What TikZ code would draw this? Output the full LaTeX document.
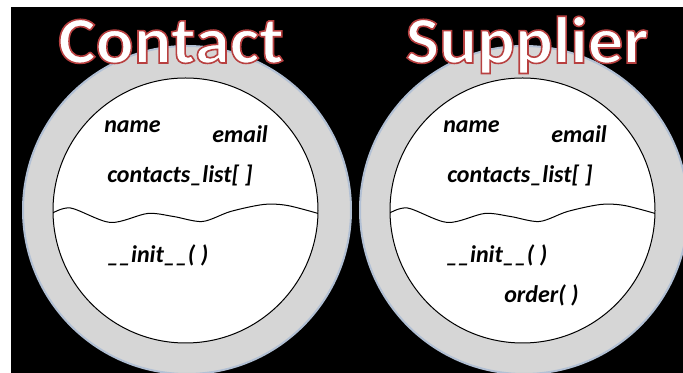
\documentclass[tikz,border=0pt]{standalone}
\usepackage{fontspec}
\setmainfont{Carlito}
\newfontfamily\titlefont[BoldFeatures={FakeBold=2.4,FakeStretch=1.06}]{Carlito}
\definecolor{ringgray}{RGB}{214,214,214}
\definecolor{ringglow}{RGB}{178,192,212}
% white letters, stroked red
\newcommand{\outlined}[1]{{\color{white}\special{pdf:code 0.72 0.25 0.25 RG}#1}}
\tikzset{
  member/.style={anchor=base west, inner sep=0.75pt, font=\fontsize{18}{21}\selectfont\bfseries\itshape},
  classname/.style={anchor=base, inner sep=0.75pt, font=\titlefont\fontsize{50}{58}\selectfont\bfseries},
  ring/.style={fill=ringgray, draw=ringglow, line width=1.5pt},
  body/.style={fill=white, draw=black, line width=0.75pt}
}

\begin{document}
\begin{tikzpicture}[x=0.75pt,y=0.75pt,yscale=-1,xscale=1]
\useasboundingbox (0,0) rectangle (683,373);
\fill [black] (11,7) rectangle (683,373);
% outer rings
\draw [ring] (187,210) circle [radius=164];
\draw [ring] (524,210) circle [radius=164];
% class bodies
\draw [body] (185.5,210.5) circle [radius=132.5];
\draw [body] (522.5,210.5) circle [radius=132.5];
% wavy separators
\begin{scope}
\clip (185.5,210.5) circle [radius=132.5];
\draw [line width=0.75pt] plot [smooth] coordinates {(51,214) (70.5,208) (110.5,222.5) (147.5,213.5) (173.5,216.5) (202.5,221.5) (230.5,211.5) (263.5,204.5) (287.5,205.5) (320,214)};
\end{scope}
\begin{scope}
\clip (522.5,210.5) circle [radius=132.5];
\draw [line width=0.75pt] plot [smooth] coordinates {(388,214) (407.5,208) (447.5,222.5) (484.5,213.5) (510.5,216.5) (539.5,221.5) (567.5,211.5) (600.5,204.5) (624.5,205.5) (657,214)};
\end{scope}
% Contact members
\draw (103,133) node [member] (cname) {name};
\draw (211,143) node [member] (cemail) {email};
\draw (106,183) node [member] (clist) {contacts\_list[ ]};
\draw (106,263) node [member] (cinit) {\_\_init\_\_( )};
% Supplier members
\draw (442,133) node [member] (sname) {name};
\draw (550,143) node [member] (semail) {email};
\draw (446,183) node [member] (slist) {contacts\_list[ ]};
\draw (445,263) node [member] (sinit) {\_\_init\_\_( )};
\draw (503,303) node [member] (sorder) {order( )};
% titles
\draw (171,63) node [classname] (contact) {\outlined{Contact}};
\draw (527,63) node [classname] (supplier) {\outlined{Supplier}};
\end{tikzpicture}
\end{document}
